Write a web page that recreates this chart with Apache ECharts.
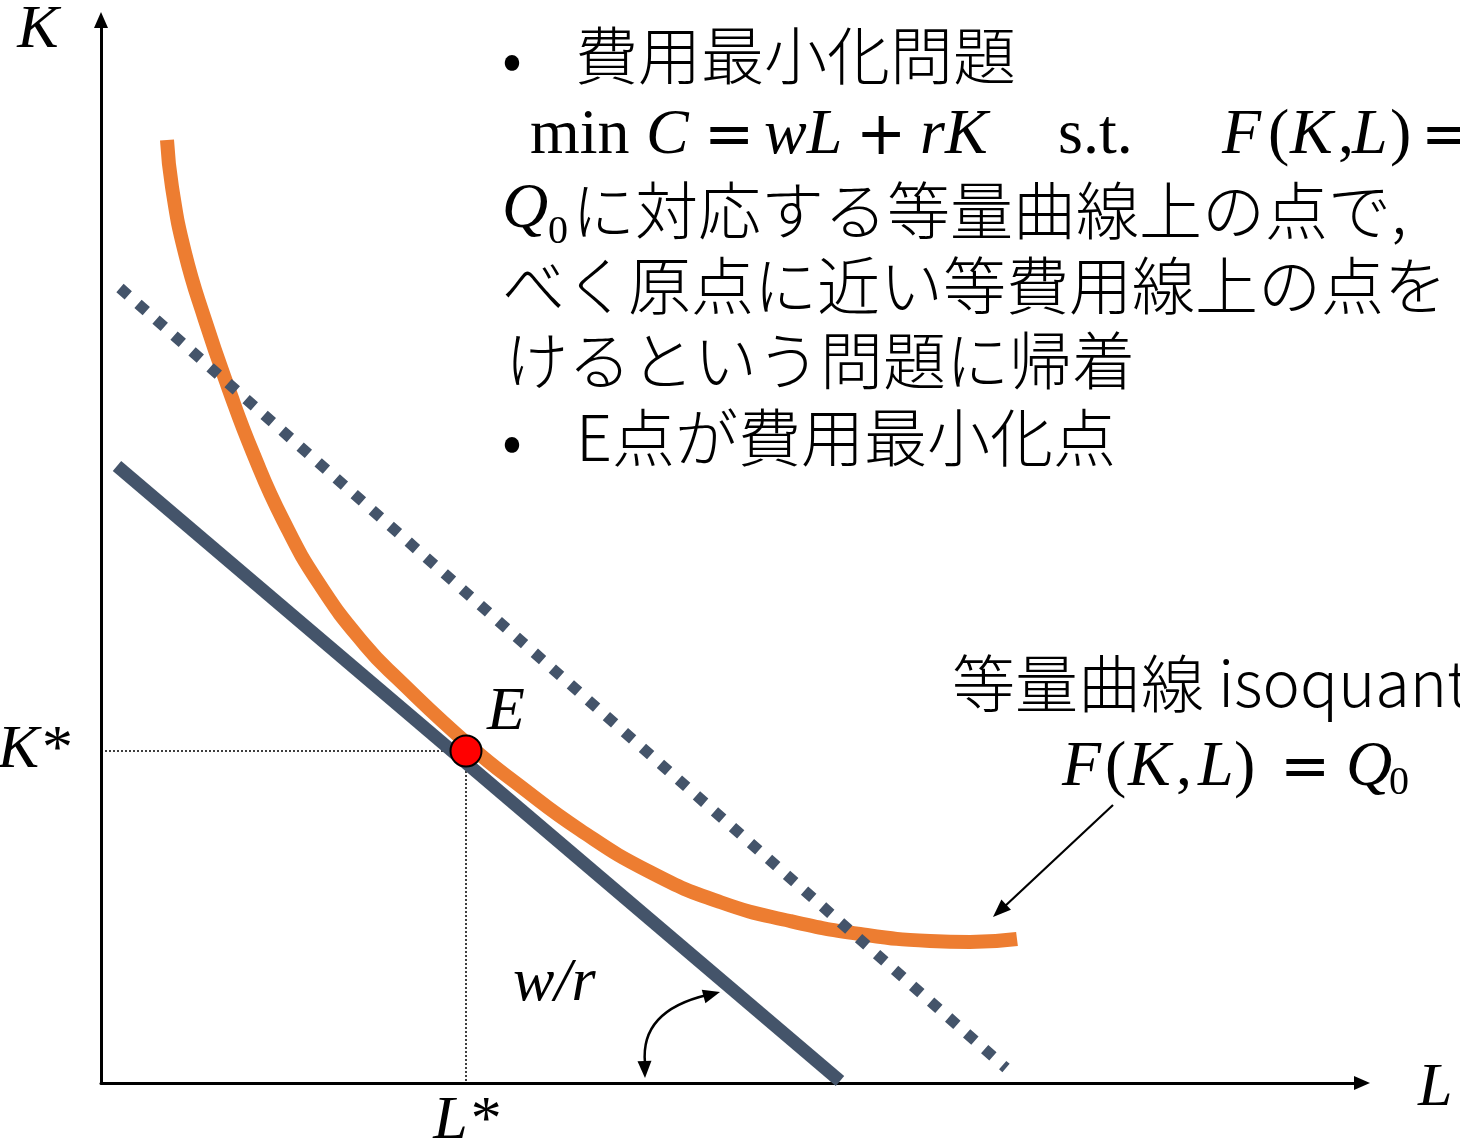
<!DOCTYPE html>
<html><head><meta charset="utf-8">
<script src="https://cdn.jsdelivr.net/npm/echarts@6/dist/echarts.min.js"></script>
<style>html,body{margin:0;padding:0;background:#fff}#c{width:1460px;height:1141px}</style>
</head><body><div id="c"></div>
<script>
// Isoquant F(K,L) = Q0 : labour L (x) against capital K (y)
const isoquantL = [0.66, 0.71, 0.84, 1.04, 1.27, 1.52, 1.82, 2.19, 2.64, 2.98, 3.69, 4.19, 4.79, 5.49, 6.19, 6.89, 7.59, 8.29, 8.69, 9.16];
const isoquantK = [9.43, 8.96, 8.30, 7.63, 6.96, 6.30, 5.63, 4.98, 4.38, 4.03, 3.37, 2.97, 2.53, 2.11, 1.81, 1.62, 1.49, 1.42, 1.41, 1.44];
// Isocost line through the optimum (end points)
const isocostL = [0.16, 7.39];
const isocostK = [6.17, 0.02];
// A higher isocost line (dotted)
const higherCostL = [0.19, 9.05];
const higherCostK = [7.95, 0.15];
// Cost-minimising point E = (L*, K*)
const optimumL = 3.65;
const optimumK = 3.32;
const optimumName = 'E';
const axisTickLabels = { L: 'L*', K: 'K*' };

const SERIF = '"Liberation Serif", "Times New Roman", serif';
const OPS = '"DejaVu Sans", sans-serif';
const JP = '"Noto Sans CJK JP", "Noto Sans", sans-serif';
const GREY = '#44546A';
const ORANGE = '#ED7D31';

const pairs = (xs, ys) => xs.map((x, i) => [x, ys[i]]);

function txt(s, x, y, size, o) {
  o = o || {};
  const align = o.align || 'left';
  return {
    type: 'text', x: x, y: y, silent: true, z: 50,
    style: {
      text: s, fontSize: size, fontFamily: o.family || JP,
      fontStyle: o.italic ? 'italic' : 'normal', fontWeight: o.weight || 'normal',
      fill: '#000', align: align, verticalAlign: 'middle',
      textAlign: align, textVerticalAlign: 'middle'
    }
  };
}
function head(tx, ty, dx, dy, len, hw) {
  const n = Math.hypot(dx, dy); dx /= n; dy /= n;
  const bx = tx - dx * len, by = ty - dy * len;
  return {
    type: 'polygon', silent: true, z: 50,
    shape: { points: [[tx, ty], [bx - dy * hw, by + dx * hw], [bx + dy * hw, by - dx * hw]] },
    style: { fill: '#000' }
  };
}
const mathStyle = { family: SERIF, italic: true };
const romanStyle = { family: SERIF };
const opStyle = { family: OPS };
const jpStyle = { family: JP, weight: 300 };

const graphics = [
  // axis names
  txt('K', 38, 31, 62, Object.assign({ align: 'center' }, mathStyle)),
  txt('L', 1418, 1089, 62, mathStyle),
  txt('w/r', 513, 984, 62, mathStyle),

  // explanatory text
  txt('•', 502, 57, 63, jpStyle),
  txt('費用最小化問題', 575, 55, 63, jpStyle),
  txt('min', 530, 136, 64, romanStyle),
  txt('C', 646, 136, 64, mathStyle),
  txt('=', 704, 138, 60, opStyle),
  txt('wL', 764, 136, 64, mathStyle),
  txt('+', 856, 138, 60, opStyle),
  txt('rK', 920, 136, 64, mathStyle),
  txt('s.t.', 1058, 136, 64, romanStyle),
  txt('F', 1222, 136, 64, mathStyle),
  txt('(', 1268, 136, 64, romanStyle),
  txt('K', 1290, 136, 64, mathStyle),
  txt(',', 1338, 136, 64, romanStyle),
  txt('L', 1352, 136, 64, mathStyle),
  txt(')', 1390, 136, 64, romanStyle),
  txt('=', 1421, 138, 60, opStyle),
  txt('Q', 502, 210, 64, mathStyle),
  txt('0', 548, 232, 40, romanStyle),
  txt('に対応する等量曲線上の点で,', 572, 210, 63, jpStyle),
  txt('べく原点に近い等費用線上の点を', 502, 285, 63, jpStyle),
  txt('けるという問題に帰着', 505, 360, 63, jpStyle),
  txt('•', 502, 439, 63, jpStyle),
  txt('E点が費用最小化点', 576, 437, 63, jpStyle),

  // isoquant label
  txt('等量曲線 isoquant', 952, 683, 63, jpStyle),
  txt('F', 1062, 768, 64, mathStyle),
  txt('(', 1105, 768, 64, romanStyle),
  txt('K', 1128, 768, 64, mathStyle),
  txt(',', 1176, 768, 64, romanStyle),
  txt('L', 1198, 768, 64, mathStyle),
  txt(')', 1234, 768, 64, romanStyle),
  txt('=', 1280, 770, 60, opStyle),
  txt('Q', 1346, 768, 64, mathStyle),
  txt('0', 1389, 783, 40, romanStyle),

  // pointer to the isoquant
  { type: 'line', silent: true, z: 50, shape: { x1: 1113, y1: 805, x2: 1004, y2: 907 }, style: { stroke: '#000', lineWidth: 2.2 } },
  head(993, 917, -120, 112, 18, 7),

  // slope arc w/r
  { type: 'bezierCurve', silent: true, z: 50, shape: { x1: 707, y1: 995, cpx1: 640, cpy1: 1011, x2: 645, y2: 1063 }, style: { stroke: '#000', lineWidth: 2.5, fill: null } },
  head(720, 992, 82, -22, 17, 7),
  head(645, 1078, 2, 66, 17, 7)
];

const chart = echarts.init(document.getElementById('c'), null, { renderer: 'canvas' });
chart.setOption({
  animation: false,
  backgroundColor: '#fff',
  grid: { left: 101, right: 98, top: 20, bottom: 58, containLabel: false, outerBoundsMode: 'none' },
  xAxis: {
    type: 'value', min: 0, max: 12.61,
    axisLine: { show: true, symbol: ['none', 'triangle'], symbolSize: [14, 16], lineStyle: { color: '#000', width: 3 } },
    axisTick: { show: false }, splitLine: { show: false },
    axisLabel: {
      customValues: [optimumL], formatter: () => axisTickLabels.L,
      fontFamily: SERIF, fontStyle: 'italic', fontSize: 62, color: '#000', margin: 8
    }
  },
  yAxis: {
    type: 'value', min: 0, max: 10.63,
    axisLine: { show: true, symbol: ['none', 'triangle'], symbolSize: [14, 16], lineStyle: { color: '#000', width: 3 } },
    axisTick: { show: false }, splitLine: { show: false },
    axisLabel: {
      customValues: [optimumK], formatter: () => axisTickLabels.K,
      fontFamily: SERIF, fontStyle: 'italic', fontSize: 62, color: '#000', margin: 31,
      padding: [0, 0, 20, 0]
    }
  },
  series: [
    {
      type: 'line', name: 'isocost', data: pairs(isocostL, isocostK),
      showSymbol: false, silent: true, z: 2,
      lineStyle: { color: GREY, width: 13, cap: 'butt' }
    },
    {
      type: 'line', name: 'isoquant', data: pairs(isoquantL, isoquantK),
      showSymbol: false, silent: true, smooth: 0.5, z: 3,
      lineStyle: { color: ORANGE, width: 14, cap: 'butt' }
    },
    {
      type: 'line', name: 'higher isocost', data: pairs(higherCostL, higherCostK),
      showSymbol: false, silent: true, z: 4,
      lineStyle: { color: GREY, width: 11, type: [11, 13], cap: 'butt' }
    },
    {
      type: 'scatter', name: 'optimum', z: 6, silent: true,
      data: [[optimumL, optimumK]],
      symbol: 'circle', symbolSize: 31,
      itemStyle: { color: '#FF0000', borderColor: '#000', borderWidth: 2, opacity: 1 },
      label: {
        show: true, position: 'inside', offset: [40, -38], formatter: optimumName,
        fontFamily: SERIF, fontStyle: 'italic', fontSize: 62, color: '#000'
      },
      markLine: {
        silent: true, symbol: 'none', z: 1,
        label: { show: false },
        lineStyle: { color: '#000', width: 1.5, type: [2, 2] },
        data: [
          [{ coord: [0, optimumK] }, { coord: [optimumL, optimumK] }],
          [{ coord: [optimumL, optimumK] }, { coord: [optimumL, 0] }]
        ]
      }
    }
  ],
  graphic: graphics
});
</script>
</body></html>
